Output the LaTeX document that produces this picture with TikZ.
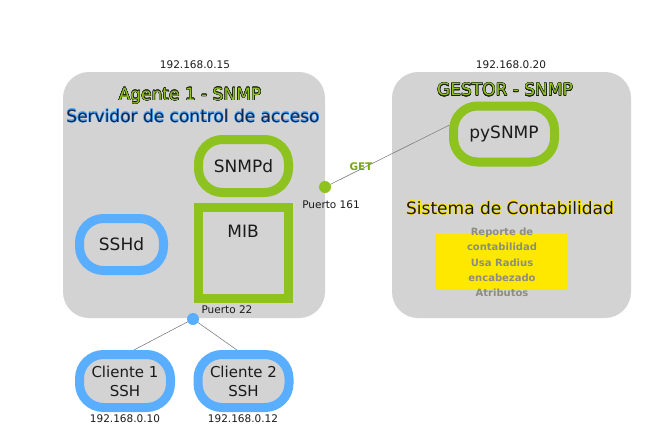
\documentclass[tikz,border=0pt]{standalone}
\usepackage{fontspec}
\setmainfont{DejaVu Sans}
\usepackage{contour}
\usepackage{tikz}
\usepackage{xcolor}
\usetikzlibrary{arrows.meta,positioning,shapes,calc}
\contourlength{0.4pt}
\definecolor{panelgray}{HTML}{D3D3D3}
\definecolor{snmpgreen}{HTML}{8DC21F}
\definecolor{sshblue}{HTML}{5AAEFF}
\definecolor{repyellow}{HTML}{FFE800}
\definecolor{ink}{HTML}{1A1A1A}
\definecolor{linkgray}{HTML}{808080}
\definecolor{navy}{HTML}{10254A}
\definecolor{boxgray}{HTML}{8C8C80}
\pgfdeclarelayer{front}
\pgfsetlayers{main,front}
\tikzset{
  panel/.style={fill=panelgray,draw=none,rounded corners=26pt},
  svc/.style={draw,fill=panelgray,line width=9pt,rounded corners=24pt,
              align=center,text=ink},
  snmpsvc/.style={svc,draw=snmpgreen,font=\fontsize{17}{20}\selectfont},
  sshsvc/.style={svc,draw=sshblue,font=\fontsize{17}{20}\selectfont},
  client/.style={svc,draw=sshblue,font=\fontsize{15}{19}\selectfont,
                 minimum width=91pt,minimum height=53pt},
  port/.style={circle,inner sep=0pt,minimum size=12pt},
  iplabel/.style={font=\fontsize{10.5}{12}\selectfont,text=ink,inner sep=1pt},
  title/.style={font=\fontsize{17}{20}\selectfont,inner sep=1pt},
  link/.style={draw=linkgray,line width=0.6pt}
}

\begin{document}
\begin{tikzpicture}[x=1pt,y=-1pt]
    \path[use as bounding box] (0,0) rectangle (650,428);

    % equipos
    \fill[panel] (63,72) rectangle (325,318);
    \fill[panel] (392,72) rectangle (631,318);
    \node[iplabel] (ipagente) at (195,65) {192.168.0.15};
    \node[iplabel] (ipgestor) at (511,65) {192.168.0.20};

    \begin{pgfonlayer}{front}
      \node[title,text=snmpgreen] (agente) at (190,96)
        {\contour{ink}{Agente 1 - SNMP}};
      \node[title,text=navy] (servidor) at (193,116)
        {\contour{sshblue}{Servidor de control de acceso}};
      \node[title,text=snmpgreen] (gestor) at (505,90)
        {\contour{ink}{GESTOR - SNMP}};

      \node[snmpsvc,minimum width=90pt,minimum height=53pt] (snmpd)
        at (243.5,166) {SNMPd};
      \node[snmpsvc,rounded corners=0pt,minimum width=90pt,minimum height=91pt,
            label={[anchor=north,yshift=-19pt,font=\fontsize{17}{20}\selectfont,
            text=ink]north:MIB}] (mib) at (243,252.5) {};
      \node[sshsvc,minimum width=84pt,minimum height=52pt] (sshd)
        at (121.5,244.5) {SSHd};
      \node[snmpsvc,minimum width=101pt,minimum height=56pt] (pysnmp)
        at (504,134) {pySNMP};

      \node[title,text=ink] (contab) at (510,208)
        {\contour{repyellow}{Sistema de Contabilidad}};
      \node[fill=repyellow,minimum width=131pt,minimum height=56pt] (reporte)
        at (501.5,261) {};
      \node[font=\fontsize{10}{15.3}\selectfont\bfseries,text=boxgray,
            align=center,inner sep=0pt] (reptext) at (502,262.5)
        {Reporte de\\contabilidad\\Usa Radius\\encabezado\\Atributos};

      % puertos
      \node[port,fill=snmpgreen] (p161) at (325,187) {};
      \node[iplabel] (p161lbl) at (331,205) {Puerto 161};
      \node[iplabel,font=\fontsize{10.5}{12}\selectfont\bfseries,
            text=snmpgreen!85!black] (get) at (361,167) {GET};
      \node[port,fill=sshblue] (p22) at (193,319) {};
      \node[iplabel] (p22lbl) at (227,310) {Puerto 22};

      % clientes
      \node[client] (cli1) at (125,381) {Cliente 1\\SSH};
      \node[client] (cli2) at (243.5,381) {Cliente 2\\SSH};
      \node[iplabel] (ipcli1) at (125,419) {192.168.0.10};
      \node[iplabel] (ipcli2) at (243,419) {192.168.0.12};
    \end{pgfonlayer}

    \draw[link] (p161.center) -- (pysnmp.171);
    \draw[link] (p22.center) -- (cli1.74);
    \draw[link] (p22.center) -- (cli2.102);
  \end{tikzpicture}
\end{document}
